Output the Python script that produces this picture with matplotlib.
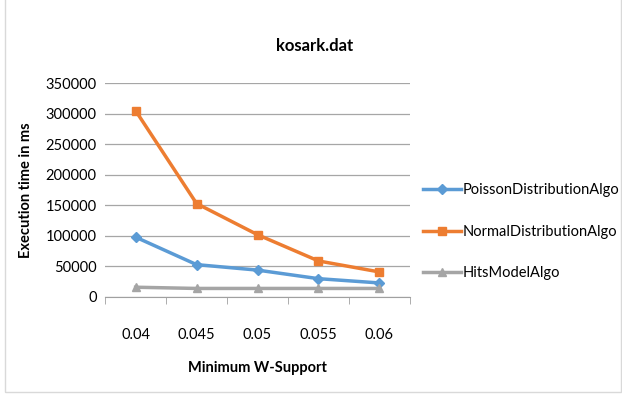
import matplotlib
matplotlib.use("Agg")
import matplotlib.pyplot as plt
from matplotlib.patches import Rectangle

categories = ["0.04", "0.045", "0.05", "0.055", "0.06"]
poisson = [98000, 53000, 44000, 30000, 23000]
normal = [305000, 153000, 102000, 59000, 41000]
hits = [16000, 14000, 14000, 14000, 14000]
yticks = [0, 50000, 100000, 150000, 200000, 250000, 300000, 350000]

plt.rcParams['font.family'] = ['Lato', 'DejaVu Sans']

fig = plt.figure(figsize=(6.22, 3.96), dpi=100)
fig.patches.append(Rectangle((0.008, 0.01), 0.99, 1.2, transform=fig.transFigure,
                             fill=False, edgecolor='#d9d9d9', linewidth=1))
ax = fig.add_axes([0.169, 0.25, 0.49, 0.54])
x = list(range(len(categories)))
ax.plot(x, poisson, color='#5B9BD5', lw=2.5, marker='D', ms=5, label='PoissonDistributionAlgo')
ax.plot(x, normal, color='#ED7D31', lw=2.5, marker='s', ms=6, label='NormalDistributionAlgo')
ax.plot(x, hits, color='#A5A5A5', lw=2.5, marker='^', ms=6, label='HitsModelAlgo')

ax.set_ylim(0, 350000)
ax.set_yticks(yticks)
ax.set_yticklabels([str(v) for v in yticks], fontsize=10.5)
ax.set_xlim(-0.5, len(categories) - 0.5)
ax.set_xticks(x)
ax.set_xticklabels(categories, fontsize=10.5)
ax.set_xticks([i - 0.5 for i in range(len(categories) + 1)], minor=True)
ax.tick_params(axis='x', which='major', length=0, pad=22)
ax.tick_params(axis='x', which='minor', length=5, color='#a0a0a0', direction='out')
ax.tick_params(axis='y', length=0, pad=6)
ax.grid(axis='y', color='#a6a6a6', lw=0.9)
ax.set_axisbelow(True)
for s in ['top', 'right', 'left']:
    ax.spines[s].set_visible(False)
ax.spines['bottom'].set_color('#a0a0a0')

ax.set_ylabel('Execution time in ms', fontsize=10.5, fontweight='bold', labelpad=9)
ax.set_xlabel('Minimum W-Support', fontsize=10.5, fontweight='bold', labelpad=14)
fig.text(0.505, 0.885, 'kosark.dat', fontsize=12, fontweight='bold', ha='center', va='center')

ax.legend(loc='center left', bbox_to_anchor=(1.025, 0.305), frameon=False, fontsize=10.5,
          labelspacing=1.9, handlelength=2.6, handletextpad=0.1, borderaxespad=0)

fig.savefig('out.png', dpi=100)
